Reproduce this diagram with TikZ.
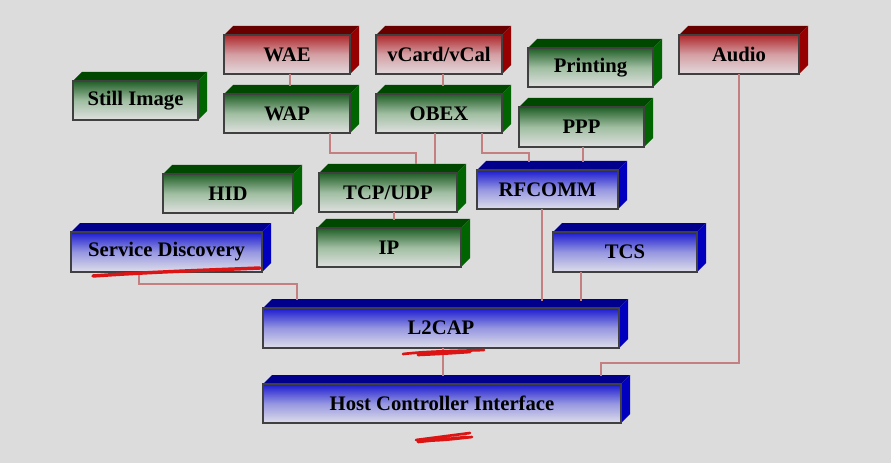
\documentclass[tikz,border=0pt]{standalone}
\usepackage{fontspec}
\setmainfont{Liberation Serif}
\usetikzlibrary{calc}
\definecolor{bg}{RGB}{220,220,220}
\definecolor{linkc}{RGB}{196,128,128}
\definecolor{rtop}{RGB}{105,0,0}
\definecolor{rside}{RGB}{150,0,0}
\definecolor{rfront}{RGB}{175,40,44}
\definecolor{rmid}{RGB}{212,160,164}
\definecolor{rlight}{RGB}{226,218,222}
\definecolor{gtop}{RGB}{0,72,0}
\definecolor{gside}{RGB}{0,100,0}
\definecolor{gfront}{RGB}{32,94,38}
\definecolor{gmid}{RGB}{160,190,162}
\definecolor{glight}{RGB}{224,224,224}
\definecolor{btop}{RGB}{0,0,140}
\definecolor{bside}{RGB}{0,0,190}
\definecolor{bfront}{RGB}{26,26,208}
\definecolor{bmid}{RGB}{150,150,225}
\definecolor{blight}{RGB}{222,222,234}
\definecolor{annot}{RGB}{220,20,20}
\newcommand\boxfaces[2]{%
  \fill[#2top] (#1.north west) -- ++(9,-9) -- ($(#1.north east)+(9,-9)$) -- (#1.north east) -- cycle;
  \fill[#2side] (#1.north east) -- ++(9,-9) -- ($(#1.south east)+(9,-9)$) -- (#1.south east) -- cycle;
  \draw[black!75,line width=0.9pt] (#1.north west) rectangle (#1.south east);
}
\tikzset{
  lay/.style={draw=black!75, line width=0.9pt, inner sep=0pt, outer sep=0pt,
    font=\fontsize{15.5}{18}\selectfont\bfseries, text=black, shading=axis,
    top color=#1front, bottom color=#1light, middle color=#1mid},
  sz/.style 2 args={minimum width=#1*0.75pt, minimum height=#2*0.75pt},
  conn/.style={draw=linkc, line width=1.3pt},
  scrib/.style={draw=annot, line width=2pt, line cap=round, line join=round},
}
\begin{document}
\begin{tikzpicture}[x=0.75pt,y=-0.75pt]
\fill[bg] (0,0) rectangle (891,463);
\useasboundingbox (0,0) rectangle (891,463);

% nodes (front faces)
\node[lay=r, sz={126}{39}] (wae)      at (287,54.5)   {\raisebox{-1pt}{WAE}};
\node[lay=r, sz={126}{39}] (vcard)    at (439,54.5)   {\raisebox{-1pt}{vCard/vCal}};
\node[lay=r, sz={120}{39}] (audio)    at (739,54.5)   {\raisebox{-1pt}{Audio}};
\node[lay=g, sz={125}{39}] (printing) at (590.5,67.5) {\raisebox{-1pt}{Printing}};
\node[lay=g, sz={125}{39}] (still)    at (135.5,100.5){\raisebox{-1pt}{Still Image}};
\node[lay=g, sz={126}{39}] (wap)      at (287,113.5)  {\raisebox{-1pt}{WAP}};
\node[lay=g, sz={126}{39}] (obex)     at (439,113.5)  {\raisebox{-1pt}{OBEX}};
\node[lay=g, sz={125}{40}] (ppp)      at (581.5,127)  {\raisebox{-1pt}{PPP}};
\node[lay=g, sz={130}{39}] (hid)      at (228,193.5)  {\raisebox{-1pt}{HID}};
\node[lay=g, sz={138}{39}] (tcp)      at (388,192.5)  {\raisebox{-1pt}{TCP/UDP}};
\node[lay=b, sz={141}{39}] (rfcomm)   at (547.5,189.5){\raisebox{-1pt}{RFCOMM}};
\node[lay=g, sz={144}{39}] (ip)       at (389,247.5)  {\raisebox{-1pt}{IP}};
\node[lay=b, sz={191}{40}] (sd)       at (166.5,252)  {\raisebox{-1pt}{Service Discovery}};
\node[lay=b, sz={144}{40}] (tcs)      at (625,252)    {\raisebox{-1pt}{TCS}};
\node[lay=b, sz={356}{40}] (l2cap)    at (441,328)    {\raisebox{-1pt}{L2CAP}};
\node[lay=b, sz={358}{39}] (hci)      at (442,403.5)  {\raisebox{-1pt}{Host Controller Interface}};

\foreach \n/\c in {wae/r,vcard/r,audio/r,printing/g,still/g,wap/g,obex/g,ppp/g,hid/g,tcp/g,rfcomm/b,ip/g,sd/b,tcs/b,l2cap/b,hci/b}
  {\boxfaces{\n}{\c}}

% connectors
\draw[conn] ($(wae.south)+(3,0)$) -- ($(wap.north)+(3,-8)$);
\draw[conn] ($(vcard.south)+(4,0)$) -- ($(obex.north)+(4,-8)$);
\draw[conn] ($(wap.south)+(43,0)$) -- ++(0,20) -| ($(tcp.north)+(28,-9)$);
\draw[conn] ($(obex.south)+(-4,0)$) -- ($(tcp.north)+(47,-9)$);
\draw[conn] ($(obex.south)+(43,0)$) -- ++(0,20) -| ($(rfcomm.north)+(-18.5,-8)$);
\draw[conn] ($(ppp.south)+(1.5,0)$) -- ($(rfcomm.north)+(35.5,-8)$);
\draw[conn] ($(tcp.south)+(6,0)$) -- ($(ip.north)+(5,-8)$);
\draw[conn] ($(sd.south)+(-27.5,0)$) -- ++(0,12) -| ($(l2cap.north)+(-144,-8)$);
\draw[conn] ($(rfcomm.south)+(-5.5,0)$) -- ($(l2cap.north)+(101,-7)$);
\draw[conn] ($(tcs.south)+(-44,0)$) -- ($(l2cap.north)+(140,-7)$);
\draw[conn] ($(l2cap.south)+(2,0)$) -- ($(hci.north)+(1,-8)$);
\draw[conn] (audio.south) |- ($(hci.north)+(159,-21)$) -- ($(hci.north)+(159,-8)$);

% hand-drawn red annotations
\draw[scrib, line width=2.6pt] (93,276) .. controls (150,272) and (210,270) .. (260,268);
\draw[scrib] (403,354) .. controls (430,351) and (460,351) .. (484,350)
  (418,355) .. controls (440,354) and (455,353) .. (470,352);
\draw[scrib] (416,440) -- (470,433) (418,442) -- (466,437) (422,441) .. controls (445,440) .. (472,437);
\end{tikzpicture}
\end{document}
